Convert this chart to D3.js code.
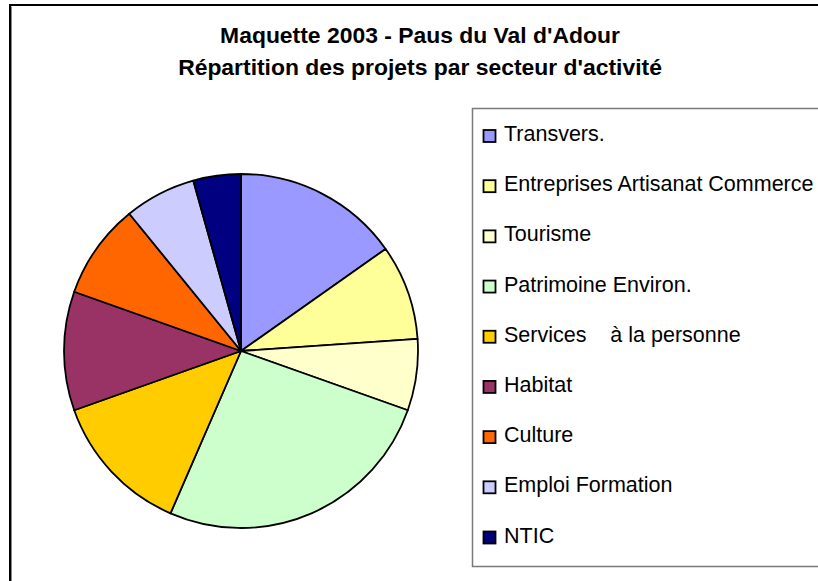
<!DOCTYPE html>
<html>
<head>
<meta charset="UTF-8">
<title>Maquette 2003</title>
<style>
  html, body { margin: 0; padding: 0; background: #fff; overflow: hidden; }
  svg { display: block; }
</style>
</head>
<body>
<svg width="818" height="581"></svg>
<script src="https://d3js.org/d3.v7.min.js"></script>
<script>
// data
var categories = ["Transvers.", "Entreprises Artisanat Commerce", "Tourisme",
  "Patrimoine Environ.", "Services    à la personne", "Habitat", "Culture",
  "Emploi Formation", "NTIC"];
var values = [7, 4, 3, 12, 6, 5, 4, 3, 2];
var colors = ["#9999FF", "#FFFF99", "#FFFFCC", "#CCFFCC", "#FFCC00",
  "#993366", "#FF6600", "#CCCCFF", "#000080"];
var titleLines = ["Maquette 2003 - Paus du Val d'Adour",
  "Répartition des projets par secteur d'activité"];

var svg = d3.select("svg");
var font = "Liberation Sans, Arial, sans-serif";
var W = 818, H = 581;

// outer frame, cut by the right and bottom edges
svg.append("path")
  .attr("d", "M10," + H + " V5 H" + W)
  .attr("fill", "none")
  .attr("stroke", "#000").attr("stroke-width", 2);
svg.append("path")
  .attr("d", "M11.5," + H + " V6.5")
  .attr("fill", "none")
  .attr("stroke", "#888").attr("stroke-width", 1);

// title
svg.selectAll("text.title")
  .data(titleLines)
  .enter().append("text")
  .attr("class", "title")
  .attr("x", 420)
  .attr("y", function (d, i) { return 43 + i * 32; })
  .attr("text-anchor", "middle")
  .attr("font-family", font)
  .attr("font-weight", "bold")
  .attr("font-size", 22.9)
  .text(function (d) { return d; });

// pie
var cx = 241, cy = 351, r = 177;
var pie = d3.pie().sort(null).value(function (d) { return d; });
var arc = d3.arc().innerRadius(0).outerRadius(r);

svg.append("g")
  .attr("transform", "translate(" + cx + "," + cy + ")")
  .selectAll("path")
  .data(pie(values))
  .enter().append("path")
  .attr("d", arc)
  .attr("fill", function (d, i) { return colors[i]; })
  .attr("stroke", "#000")
  .attr("stroke-width", 1.8)
  .attr("stroke-linejoin", "round");

// legend box, also cut by the right edge
var legend = svg.append("g");
legend.append("path")
  .attr("d", "M" + W + ",108.5 H472.5 V566.5 H" + W)
  .attr("fill", "#fff")
  .attr("stroke", "#7a7a7a").attr("stroke-width", 1.5);

var ly = d3.scaleLinear().domain([0, categories.length - 1]).range([136, 537.5]);

var items = legend.selectAll("g.item")
  .data(categories)
  .enter().append("g")
  .attr("class", "item")
  .attr("transform", function (d, i) { return "translate(0," + ly(i) + ")"; });

items.append("rect")
  .attr("x", 483.5).attr("y", -6)
  .attr("width", 12).attr("height", 12)
  .attr("fill", function (d, i) { return colors[i]; })
  .attr("stroke", "#000").attr("stroke-width", 1.8);

items.append("text")
  .attr("x", 504)
  .attr("y", 5)
  .attr("font-family", font)
  .attr("font-size", 21.5)
  .attr("fill", "#000")
  .style("white-space", "pre")
  .text(function (d) { return d; });
</script>
</body>
</html>
